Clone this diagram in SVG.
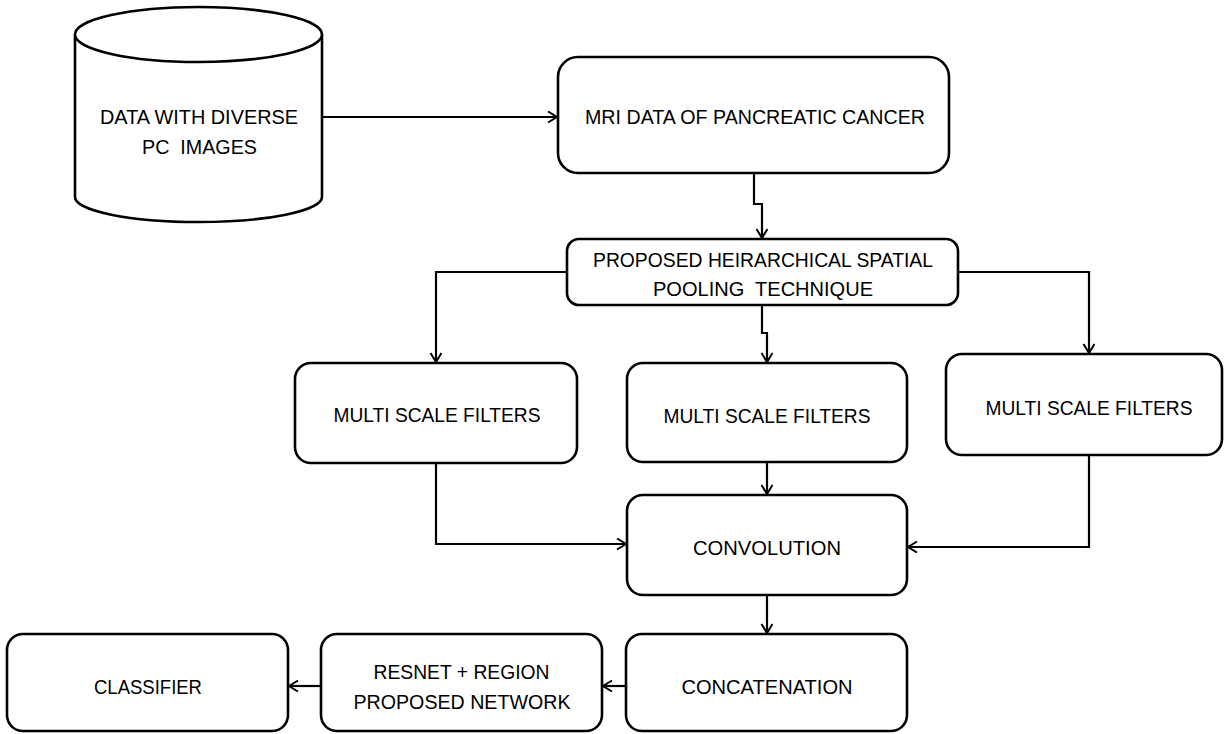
<svg xmlns="http://www.w3.org/2000/svg" width="1225" height="734" viewBox="0 0 1225 734">
<style>
.box{fill:#fff;stroke:#000;stroke-width:2.6}
.lbl{font-family:"Liberation Sans",Arial,sans-serif;font-size:21px;fill:#000;text-anchor:middle}
.con{fill:none;stroke:#000;stroke-width:2.2}
</style>
<defs>
<marker id="arr" markerUnits="userSpaceOnUse" markerWidth="14" markerHeight="14" refX="10" refY="6" orient="auto">
<path d="M1,0.5 L10,6 L1,11.5" fill="none" stroke="#000" stroke-width="2"/>
</marker>
</defs>
<rect width="1225" height="734" fill="#fff"/>
<g id="connectors">
<path class="con" d="M322,117 H557" marker-end="url(#arr)"/>
<path class="con" d="M754,173 V204 H762 V238" marker-end="url(#arr)"/>
<path class="con" d="M567,272 H436 V362" marker-end="url(#arr)"/>
<path class="con" d="M958,272 H1089 V353" marker-end="url(#arr)"/>
<path class="con" d="M762,305 V333 H767 V362" marker-end="url(#arr)"/>
<path class="con" d="M436,463 V544 H626" marker-end="url(#arr)"/>
<path class="con" d="M767,462 V494" marker-end="url(#arr)"/>
<path class="con" d="M1089,455 V547 H908" marker-end="url(#arr)"/>
<path class="con" d="M767,595 V633" marker-end="url(#arr)"/>
<path class="con" d="M626,686 H603" marker-end="url(#arr)"/>
<path class="con" d="M321,686 H289" marker-end="url(#arr)"/>
</g>
<g id="data">
<path class="box" d="M75,34.5 V197 A123.5,25 0 0 0 322,197 V34.5"/>
<ellipse class="box" cx="198.5" cy="34.5" rx="123.5" ry="27.5"/>
<text class="lbl" x="199" y="124" textLength="198" lengthAdjust="spacingAndGlyphs">DATA WITH DIVERSE</text>
<text class="lbl" x="199.5" y="154" textLength="115" lengthAdjust="spacingAndGlyphs" xml:space="preserve">PC  IMAGES</text>
</g>
<g id="mri">
<rect class="box" x="558" y="57" width="391" height="116" rx="20"/>
<text class="lbl" x="755" y="124" textLength="340" lengthAdjust="spacingAndGlyphs">MRI DATA OF PANCREATIC CANCER</text>
</g>
<g id="phsp">
<rect class="box" x="567" y="239" width="391" height="66" rx="12"/>
<text class="lbl" x="763" y="267" textLength="340" lengthAdjust="spacingAndGlyphs">PROPOSED HEIRARCHICAL SPATIAL</text>
<text class="lbl" x="763" y="296" textLength="220" lengthAdjust="spacingAndGlyphs" xml:space="preserve">POOLING  TECHNIQUE</text>
</g>
<g id="msf1">
<rect class="box" x="295" y="363" width="282" height="100" rx="16"/>
<text class="lbl" x="437" y="422" textLength="207" lengthAdjust="spacingAndGlyphs">MULTI SCALE FILTERS</text>
</g>
<g id="msf2">
<rect class="box" x="627" y="363" width="280" height="99" rx="16"/>
<text class="lbl" x="767" y="423" textLength="207" lengthAdjust="spacingAndGlyphs">MULTI SCALE FILTERS</text>
</g>
<g id="msf3">
<rect class="box" x="946" y="354" width="276" height="101" rx="16"/>
<text class="lbl" x="1089" y="415" textLength="207" lengthAdjust="spacingAndGlyphs">MULTI SCALE FILTERS</text>
</g>
<g id="convolution">
<rect class="box" x="627" y="495" width="280" height="100" rx="16"/>
<text class="lbl" x="767" y="555" textLength="148" lengthAdjust="spacingAndGlyphs">CONVOLUTION</text>
</g>
<g id="concatenation">
<rect class="box" x="626" y="634" width="281" height="97" rx="16"/>
<text class="lbl" x="767" y="694" textLength="171" lengthAdjust="spacingAndGlyphs">CONCATENATION</text>
</g>
<g id="resnet">
<rect class="box" x="321" y="634" width="281" height="97" rx="16"/>
<text class="lbl" x="461.5" y="679" textLength="176" lengthAdjust="spacingAndGlyphs">RESNET + REGION</text>
<text class="lbl" x="462" y="709" textLength="217" lengthAdjust="spacingAndGlyphs">PROPOSED NETWORK</text>
</g>
<g id="classifier">
<rect class="box" x="7" y="634" width="281" height="97" rx="16"/>
<text class="lbl" x="148" y="694" textLength="108" lengthAdjust="spacingAndGlyphs">CLASSIFIER</text>
</g>
</svg>
